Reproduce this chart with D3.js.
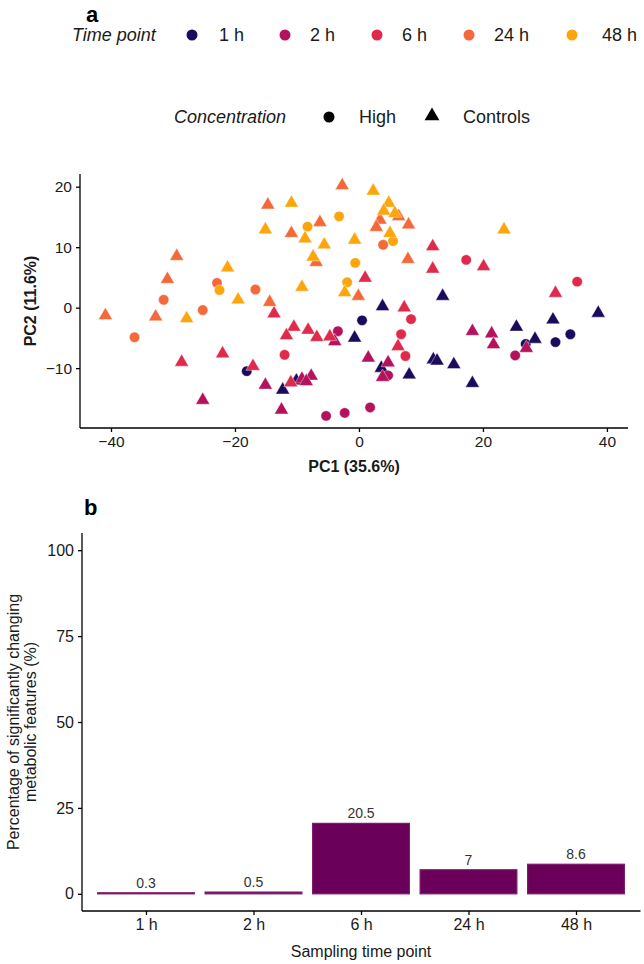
<!DOCTYPE html>
<html><head><meta charset="utf-8">
<script src="https://cdn.jsdelivr.net/npm/d3@7"></script>
<style>body{margin:0;background:#fff}svg{display:block;font-family:"Liberation Sans",Arial,sans-serif}</style>
</head><body>
<script>
// ---- Data ----
const timePoints = ["1 h","2 h","6 h","24 h","48 h"];
const timeColors = ["#1c0b5c","#b5125e","#e02a4b","#f4693a","#fca50c"];
const concentrations = ["High","Controls"];
// PCA scores [PC1, PC2]
const pca1hHigh = [[-18.1,-10.5],[0.5,-2.1],[34.1,-4.4],[31.7,-5.7],[26.9,-6.0]];
const pca1hCtrl = [[-12.3,-13.6],[-10.1,-12.1],[-0.7,-5.0],[3.8,0.2],[13.5,1.9],[3.6,-10.0],[8.1,-11.1],[12.0,-8.6],[12.6,-8.8],[15.3,-9.4],[18.3,-12.5],[25.4,-3.2],[28.4,-5.2],[31.3,-2.0],[38.6,-0.9]];
const pca2hHigh = [[-3.4,-3.9],[4.7,-11.2],[25.2,-7.9],[-5.3,-17.9],[-2.3,-17.4],[1.8,-16.5]];
const pca2hCtrl = [[-25.2,-15.3],[-15.1,-12.8],[-12.5,-16.9],[-9.2,-11.8],[-7.7,-11.3],[-8.5,-12.2],[-3.9,-5.6],[1.5,-8.3],[4.7,-9.1],[3.8,-11.5],[18.3,-3.9],[21.4,-4.3],[21.7,-6.1],[27.0,-6.7]];
const pca6hHigh = [[-12.0,-7.8],[8.4,-1.9],[6.8,-4.4],[7.5,-8.0],[17.3,7.9],[35.2,4.3]];
const pca6hCtrl = [[-28.6,-9.0],[-22.0,-7.6],[-17.1,-9.7],[-13.7,-1.0],[-10.5,-3.2],[-11.7,-4.6],[-8.2,-3.7],[-6.8,-4.9],[-4.7,-4.8],[-11.0,-12.4],[1.0,4.9],[7.3,0.0],[6.3,-6.4],[11.9,10.1],[11.9,6.4],[20.1,6.8],[31.7,2.4]];
const pca24hHigh = [[-36.2,-4.9],[-31.5,1.3],[-25.2,-0.4],[-22.9,4.1],[-16.7,3.0],[3.9,10.4]];
const pca24hCtrl = [[-40.9,-1.3],[-32.8,-1.5],[-30.9,4.7],[-29.4,8.5],[-14.4,0.9],[-14.7,17.0],[-10.9,12.3],[-6.3,14.1],[-6.9,7.5],[-2.7,20.2],[-0.1,1.9],[3.4,14.5],[2.8,13.3],[6.4,15.1],[8.0,13.7],[7.9,8.0]];
const pca48hHigh = [[-22.5,2.9],[-8.3,13.4],[-3.2,15.1],[-0.6,7.4],[-1.9,4.2],[5.5,11.0]];
const pca48hCtrl = [[-27.8,-1.8],[-21.2,6.6],[-19.5,1.3],[-15.1,12.9],[-10.9,17.3],[-9.2,3.4],[-8.7,11.4],[-7.4,8.4],[-5.6,10.4],[-2.3,2.5],[-0.7,11.2],[2.3,19.3],[4.8,17.3],[4.0,16.0],[5.8,15.6],[5.0,12.3],[23.4,12.9]];
const pcaXTicks = [-40,-20,0,20,40];
const pcaYTicks = [-10,0,10,20];
// Bar chart
const barCategories = ["1 h","2 h","6 h","24 h","48 h"];
const barValues = [0.3,0.5,20.5,7,8.6];
const barLabels = ["0.3","0.5","20.5","7","8.6"];
const barYTicks = [0,25,50,75,100];

// ---- Build point table ----
const groups = [
  [pca1hHigh,0,"High"],[pca1hCtrl,0,"Controls"],
  [pca2hHigh,1,"High"],[pca2hCtrl,1,"Controls"],
  [pca6hHigh,2,"High"],[pca6hCtrl,2,"Controls"],
  [pca24hHigh,3,"High"],[pca24hCtrl,3,"Controls"],
  [pca48hHigh,4,"High"],[pca48hCtrl,4,"Controls"]
];
const points = [];
groups.forEach(([arr,t,c]) => arr.forEach(p => points.push({x:p[0],y:p[1],t,c})));

const W=644,H=964;
const svg=d3.select("body").append("svg").attr("width",W).attr("height",H);
const txt="#1a1a1a";
const FF="Liberation Sans, Arial, sans-serif";

// ---- Panel a ----
svg.append("text").attr("x",86).attr("y",22).attr("font-size",22).attr("font-weight","bold").text("a");

// legend row 1
const lg1=svg.append("g");
lg1.append("text").attr("x",72).attr("y",41).attr("font-size",18).attr("font-style","italic").attr("fill",txt).text("Time point");
const dotX=[192,285,377,469,572], labX=[219,310,402,494,602];
timePoints.forEach((tp,i)=>{
  lg1.append("circle").attr("cx",dotX[i]).attr("cy",35).attr("r",5.5).attr("fill",timeColors[i]);
  lg1.append("text").attr("x",labX[i]).attr("y",41).attr("font-size",18).attr("fill",txt).text(tp);
});
// legend row 2
const lg2=svg.append("g");
lg2.append("text").attr("x",174).attr("y",123).attr("font-size",18).attr("font-style","italic").attr("fill",txt).text("Concentration");
lg2.append("circle").attr("cx",329).attr("cy",117).attr("r",5.5).attr("fill","#000");
lg2.append("text").attr("x",359).attr("y",123).attr("font-size",18).attr("fill",txt).text(concentrations[0]);
lg2.append("path").attr("transform","translate(432,116)").attr("d",d3.symbol(d3.symbolTriangle,95)()).attr("fill","#000");
lg2.append("text").attr("x",463).attr("y",123).attr("font-size",18).attr("fill",txt).text(concentrations[1]);

const xA=d3.scaleLinear().domain([-45,43.4]).range([80,628]);
const yA=d3.scaleLinear().domain([-19.9,22.1]).range([428,174]);

const gA=svg.append("g");
const ptsG=gA.append("g");
points.forEach(p=>{
  if(p.c==="High"){
    ptsG.append("circle").attr("cx",xA(p.x)).attr("cy",yA(p.y)).attr("r",5.2)
      .attr("fill",timeColors[p.t]).attr("stroke","#fff").attr("stroke-width",0.4);
  } else {
    ptsG.append("path").attr("transform",`translate(${xA(p.x)},${yA(p.y)})`)
      .attr("d",d3.symbol(d3.symbolTriangle,85)())
      .attr("fill",timeColors[p.t]).attr("stroke","#fff").attr("stroke-width",0.4);
  }
});

const axXA=gA.append("g").attr("transform","translate(0,428)")
  .call(d3.axisBottom(xA).tickValues(pcaXTicks).tickSize(4).tickPadding(4).tickFormat(d3.format("d")));
const axYA=gA.append("g").attr("transform","translate(80,0)")
  .call(d3.axisLeft(yA).tickValues(pcaYTicks).tickSize(4).tickPadding(4).tickFormat(d3.format("d")));
[axXA,axYA].forEach(a=>{
  a.select(".domain").remove();
  a.selectAll(".tick line").attr("stroke","#000").attr("stroke-width",1.3);
  a.selectAll("text").attr("font-size",15.5).attr("fill",txt).attr("font-family",FF);
});
gA.append("line").attr("x1",80).attr("x2",628).attr("y1",428).attr("y2",428).attr("stroke","#000").attr("stroke-width",1.3);
gA.append("line").attr("x1",80).attr("x2",80).attr("y1",174).attr("y2",428).attr("stroke","#000").attr("stroke-width",1.3);
gA.append("text").attr("x",354).attr("y",472).attr("text-anchor","middle").attr("font-size",16).attr("font-weight","bold").attr("fill",txt).text("PC1 (35.6%)");
gA.append("text").attr("transform","translate(36,301) rotate(-90)").attr("text-anchor","middle").attr("font-size",16).attr("font-weight","bold").attr("fill",txt).text("PC2 (11.6%)");

// ---- Panel b ----
svg.append("text").attr("x",84).attr("y",515).attr("font-size",22).attr("font-weight","bold").text("b");
// ggplot-like: bar width 0.9 of step, expansion 0.6 step each side
const step=(640.5-81.5)/5.2;
const xCenter=d3.scalePoint().domain(barCategories).range([81.5+0.6*step,640.5-0.6*step]);
const yB=d3.scaleLinear().domain([-5,105]).range([911,533]);
const gB=svg.append("g");
barCategories.forEach((c,i)=>{
  const w=0.9*step;
  gB.append("rect").attr("x",xCenter(c)-w/2).attr("width",w)
    .attr("y",yB(barValues[i])).attr("height",Math.max(yB(0)-yB(barValues[i]),1))
    .attr("fill","#6a005a").attr("stroke","#7a1a6c").attr("stroke-width",1.2);
  gB.append("text").attr("x",xCenter(c)).attr("y",yB(barValues[i])-5).attr("text-anchor","middle")
    .attr("font-size",14).attr("fill","#333").text(barLabels[i]);
});
const axXB=gB.append("g").attr("transform","translate(0,911)")
  .call(d3.axisBottom(xCenter).tickSize(4).tickPadding(4));
const axYB=gB.append("g").attr("transform","translate(82,0)")
  .call(d3.axisLeft(yB).tickValues(barYTicks).tickSize(4).tickPadding(4));
[axXB,axYB].forEach(a=>{
  a.select(".domain").remove();
  a.selectAll(".tick line").attr("stroke","#000").attr("stroke-width",1.3);
  a.selectAll("text").attr("font-size",16).attr("fill",txt).attr("font-family",FF);
});
gB.append("line").attr("x1",82).attr("x2",640.5).attr("y1",911).attr("y2",911).attr("stroke","#000").attr("stroke-width",1.3);
gB.append("line").attr("x1",82).attr("x2",82).attr("y1",533).attr("y2",911).attr("stroke","#000").attr("stroke-width",1.3);
gB.append("text").attr("x",361).attr("y",957).attr("text-anchor","middle").attr("font-size",16).attr("fill",txt).text("Sampling time point");
const yt=gB.append("text").attr("transform","translate(19,722) rotate(-90)").attr("text-anchor","middle").attr("font-size",16).attr("fill",txt);
yt.append("tspan").attr("x",0).attr("dy",0).text("Percentage of significantly changing");
yt.append("tspan").attr("x",0).attr("dy",17).text("metabolic features (%)");
</script>
</body></html>
